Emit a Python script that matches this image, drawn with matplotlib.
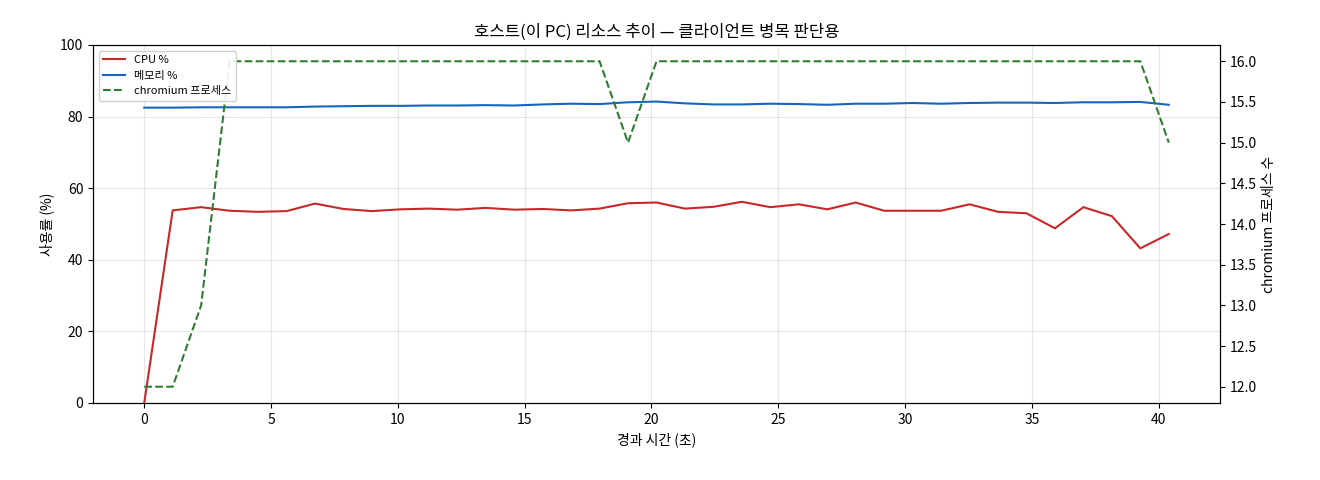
import matplotlib
matplotlib.use("Agg")
import matplotlib.pyplot as plt
import numpy as np

plt.rcParams['font.family'] = ['Noto Sans CJK KR', 'DejaVu Sans']

step = 40.4 / 36
t = np.arange(37) * step
cpu = [0, 53.8, 54.7, 53.7, 53.4, 53.6, 55.7, 54.2, 53.6, 54.1, 54.3, 54.0, 54.5, 54.0, 54.2, 53.8,
       54.3, 55.8, 56.0, 54.3, 54.8, 56.2, 54.7, 55.5, 54.1, 56.0, 53.7, 53.7, 53.7, 55.5, 53.4, 53.0,
       48.8, 54.7, 52.2, 43.2, 47.2]
mem = [82.5, 82.5, 82.6, 82.6, 82.6, 82.6, 82.8, 82.9, 83.0, 83.0, 83.1, 83.1, 83.2, 83.1, 83.4, 83.6,
       83.5, 84.0, 84.2, 83.7, 83.4, 83.4, 83.6, 83.5, 83.3, 83.6, 83.6, 83.8, 83.6, 83.8, 83.9, 83.9,
       83.8, 84.0, 84.0, 84.1, 83.3]
chrom = [12, 12, 13] + [16] * 14 + [15] + [16] * 18 + [15]

fig = plt.figure(figsize=(13.2, 4.8), dpi=100)
ax = fig.add_axes([93/1320, 1-403/480, (1220-93)/1320, (403-45)/480])
l1, = ax.plot(t, cpu, color='#c62828', lw=1.5, label='CPU %')
l2, = ax.plot(t, mem, color='#1565c0', lw=1.5, label='메모리 %')
ax.set_ylim(0, 100)
ax.set_ylabel('사용률 (%)')
ax.set_xlabel('경과 시간 (초)')
ax.grid(True, alpha=0.3)
ax2 = ax.twinx()
l3, = ax2.plot(t, chrom, color='#2e7d32', lw=1.5, ls='--', label='chromium 프로세스')
ax2.set_ylim(11.8, 16.2)
ax2.set_ylabel('chromium 프로세스 수')
ax.set_title('호스트(이 PC) 리소스 추이 — 클라이언트 병목 판단용', fontsize=12)
ax2.legend(handles=[l1, l2, l3], loc='upper left', fontsize=8, framealpha=0.9)
fig.savefig('out.png', dpi=100)
